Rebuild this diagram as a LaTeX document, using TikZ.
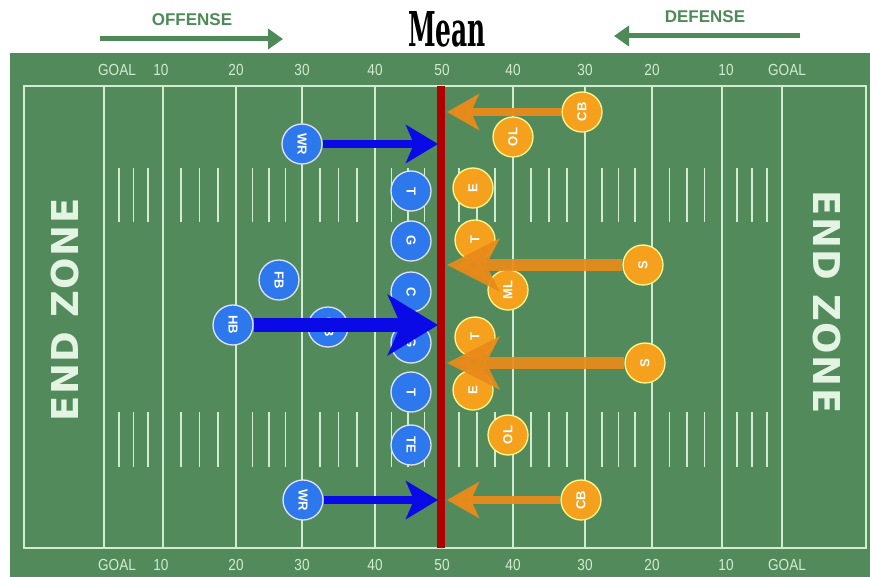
\documentclass[tikz,border=0pt]{standalone}
\usepackage{fontspec}
\setmainfont{Liberation Sans}
\newfontfamily\meanfont{DejaVu Serif}
\newfontfamily\ezfont[LetterSpace=4]{DejaVu Sans}
\usetikzlibrary{arrows.meta}
\definecolor{fieldgreen}{HTML}{528A5C}
\definecolor{chalk}{HTML}{D2ECD0}
\definecolor{offblue}{HTML}{2E78EE}
\definecolor{defor}{HTML}{F5A11E}
\definecolor{arrblue}{HTML}{0A0AE6}
\definecolor{arror}{HTML}{E98A1A}
\definecolor{redline}{HTML}{B00000}
\definecolor{hdrgreen}{HTML}{4D8A57}
\newcommand{\rcw}[1]{\rotatebox{-90}{#1}}
\newcommand{\rccw}[1]{\rotatebox{90}{#1}}
\tikzset{
  chalkline/.style={draw=chalk, line width=2pt},
  hashline/.style={draw=chalk, line width=1.8pt},
  yardlbl/.style={text=chalk, font=\fontsize{16}{16}\selectfont, inner sep=0pt, xscale=0.85},
  player/.style={circle, line width=1.3pt, minimum size=40pt, inner sep=0pt, text=white, font=\bfseries\fontsize{13}{13}\selectfont},
  offp/.style={player, fill=offblue, draw=blue!12},
  defp/.style={player, fill=defor, draw=yellow!45},
  thinblue/.style={draw=arrblue, line width=8pt, -{Stealth[length=32pt,width=38pt,inset=8pt]}},
  thickblue/.style={draw=arrblue, line width=13pt, -{Stealth[length=50pt,width=60pt,inset=13pt]}},
  thinor/.style={draw=arror, line width=8pt, opacity=0.95, -{Stealth[length=32pt,width=36pt,inset=8pt]}},
  thickor/.style={draw=arror, line width=12pt, opacity=0.92, -{Stealth[length=52pt,width=52pt,inset=13pt]}},
  hdrarrow/.style={draw=hdrgreen, line width=5pt, -{Triangle[length=15pt,width=20pt]}},
  hdrtext/.style={text=hdrgreen, font=\bfseries\fontsize{17}{17}\selectfont, inner sep=0pt},
  endzone/.style={text=chalk!60!white, font=\ezfont\bfseries\fontsize{37}{37}\selectfont, inner sep=0pt}
}
\begin{document}
\begin{tikzpicture}[x=1pt,y=-1pt]
\useasboundingbox (0,0) rectangle (870,577);
\fill[white] (0,0) rectangle (870,577);
% header
\node[hdrtext] (offtxt) at (192,20) {OFFENSE};
\coordinate (offA) at (100,39);
\coordinate (offB) at (283,39);
\draw[hdrarrow] (offA) -- (offB);
\node[hdrtext] (deftxt) at (705,17) {DEFENSE};
\coordinate (defA) at (800,36);
\coordinate (defB) at (614,36);
\draw[hdrarrow] (defA) -- (defB);
\node[anchor=base, inner sep=0pt] (mean) at (447,47) {\scalebox{0.52}[1]{\meanfont\bfseries\fontsize{48}{48}\selectfont Mean}};
% field
\fill[fieldgreen] (10,53) rectangle (870,577);
\draw[chalkline] (24,86) rectangle (866,548);
\foreach \x in {104,163,236,302,375,441,513,585,652,722,782}
  \draw[chalkline] (\x,86) -- (\x,548);
\foreach \a/\b in {104/163,163/236,236/302,302/375,375/441,441/513,513/585,585/652,652/722,722/782}
  \foreach \k in {1,2,3} {
    \draw[hashline] ({\a+(\b-\a)*\k/4},168) -- ({\a+(\b-\a)*\k/4},222);
    \draw[hashline] ({\a+(\b-\a)*\k/4},412) -- ({\a+(\b-\a)*\k/4},467);
  }
% yard labels
\foreach \x/\t [count=\i] in {117/GOAL,161/10,236/20,302/30,375/40,442/50,513/40,585/30,652/20,726/10,787/GOAL} {
  \node[yardlbl] (top\i) at (\x,70) {\t};
  \node[yardlbl] (bot\i) at (\x,565) {\t};
}
% end zones
\node[endzone] (ezL) at (65,310) {\rccw{END ZONE}};
\node[endzone] (ezR) at (827,302) {\rcw{END ZONE}};
% mean line
\draw[redline, line width=8pt] (441,86) -- (441,548);
% offense
\node[offp] (wrA) at (302,144) {\rcw{WR}};
\node[offp] (tL) at (411,191) {\rcw{T}};
\node[offp] (gL) at (411,241) {\rcw{G}};
\node[offp] (fb) at (279,280) {\rcw{FB}};
\node[offp] (c) at (411,292) {\rcw{C}};
\node[offp] (hb) at (233,325) {\rcw{HB}};
\node[offp] (qb) at (328,327) {\rcw{QB}};
\node[offp] (gR) at (411,343) {\rcw{G}};
\node[offp] (tR) at (411,392) {\rcw{T}};
\node[offp] (te) at (411,445) {\rcw{TE}};
\node[offp] (wrB) at (303,500) {\rcw{WR}};
% defense
\node[defp] (cbA) at (582,112) {\rccw{CB}};
\node[defp] (olA) at (513,137) {\rccw{OL}};
\node[defp] (eA) at (473,188) {\rccw{E}};
\node[defp] (tA) at (475,240) {\rccw{T}};
\node[defp] (ml) at (508,290) {\rccw{ML}};
\node[defp] (sA) at (643,265) {\rccw{S}};
\node[defp] (tB) at (475,337) {\rccw{T}};
\node[defp] (eB) at (473,390) {\rccw{E}};
\node[defp] (sB) at (645,363) {\rccw{S}};
\node[defp] (olB) at (508,435) {\rccw{OL}};
\node[defp] (cbB) at (581,500) {\rccw{CB}};
% arrow targets on the mean line
\coordinate (bA) at (438,144);
\coordinate (bH) at (438,325);
\coordinate (bB) at (438,500);
\coordinate (oA) at (447,112);
\coordinate (oS1) at (447,265);
\coordinate (oS2) at (447,363);
\coordinate (oB) at (447,500);
% arrows
\draw[thinblue] (wrA.east) -- (bA);
\draw[thickblue] (hb.east) -- (bH);
\draw[thinblue] (wrB.east) -- (bB);
\draw[thinor] (cbA.west) -- (oA);
\draw[thickor] (sA.west) -- (oS1);
\draw[thickor] (sB.west) -- (oS2);
\draw[thinor] (cbB.west) -- (oB);
\end{tikzpicture}
\end{document}
